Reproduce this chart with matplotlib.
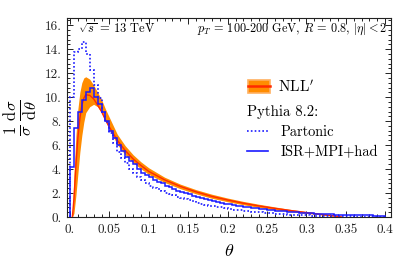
import matplotlib

matplotlib.use("Agg")
import matplotlib.pyplot as plt  # noqa: E402
import numpy as np  # noqa: E402
from matplotlib.lines import Line2D  # noqa: E402
from matplotlib.patches import Patch  # noqa: E402

plt.rcParams["font.family"] = "serif"
plt.rcParams["font.serif"] = ["cmr10", "DejaVu Serif"]
plt.rcParams["mathtext.fontset"] = "cm"
plt.rcParams["axes.unicode_minus"] = False

# Pythia histograms, bins of width 0.005 in theta
bin_width = 0.005
partonic = [
    10.0, 13.8, 14.0, 14.6, 13.6, 12.3, 11.0, 9.9, 8.8, 7.9,
    7.0, 6.2, 5.4, 4.9, 4.5, 4.0, 3.7, 3.3, 3.1, 2.8,
    2.6, 2.45, 2.3, 2.15, 2.0, 1.9, 1.8, 1.7, 1.6, 1.5,
    1.4, 1.3, 1.2, 1.1, 1.0, 0.95, 0.9, 0.85, 0.8, 0.72,
    0.7, 0.62, 0.6, 0.55, 0.5, 0.47, 0.45, 0.42, 0.38, 0.35,
    0.33, 0.3, 0.28, 0.25, 0.23, 0.2, 0.19, 0.17, 0.16, 0.15,
    0.14, 0.12, 0.11, 0.1, 0.09, 0.08, 0.08, 0.07, 0.06, 0.06,
    0.05, 0.05, 0.04, 0.04, 0.03, 0.03, 0.03, 0.02, 0.02, 0.02,
]
isr_mpi_had = [
    4.2, 7.4, 8.8, 9.8, 10.4, 10.8, 10.0, 9.4, 8.8, 8.0,
    7.2, 6.6, 6.0, 5.5, 5.0, 4.7, 4.4, 4.0, 3.7, 3.5,
    3.3, 3.1, 2.95, 2.8, 2.6, 2.5, 2.35, 2.2, 2.1, 2.0,
    1.9, 1.75, 1.7, 1.6, 1.5, 1.45, 1.35, 1.25, 1.2, 1.1,
    1.05, 1.0, 0.95, 0.9, 0.85, 0.8, 0.75, 0.72, 0.68, 0.65,
    0.6, 0.55, 0.52, 0.5, 0.47, 0.44, 0.42, 0.4, 0.37, 0.35,
    0.33, 0.3, 0.28, 0.26, 0.25, 0.23, 0.22, 0.2, 0.2, 0.18,
    0.17, 0.16, 0.15, 0.15, 0.14, 0.13, 0.13, 0.12, 0.12, 0.11,
]

# NLL' band
theta_nll = [
    0.003, 0.005, 0.0075, 0.01, 0.0125, 0.015, 0.0175, 0.02, 0.025, 0.03,
    0.035, 0.04, 0.045, 0.05, 0.06, 0.07, 0.08, 0.09, 0.1, 0.12,
    0.14, 0.16, 0.18, 0.2, 0.22, 0.24, 0.26, 0.28, 0.3, 0.315,
    0.33, 0.34, 0.345,
]
nll_central = [
    0.0, 1.5, 4.3, 6.6, 8.2, 9.3, 9.9, 10.2, 10.15, 9.85,
    9.35, 8.8, 8.1, 7.5, 6.4, 5.55, 4.85, 4.3, 3.8, 3.1,
    2.55, 2.1, 1.72, 1.42, 1.15, 0.92, 0.72, 0.54, 0.37, 0.25,
    0.13, 0.05, 0.0,
]
nll_upper = [
    0.0, 3.5, 6.8, 9.0, 10.4, 11.2, 11.6, 11.7, 11.5, 11.0,
    10.4, 9.8, 9.0, 8.3, 6.9, 5.95, 5.2, 4.6, 4.1, 3.32,
    2.74, 2.28, 1.9, 1.58, 1.3, 1.06, 0.84, 0.63, 0.45, 0.31,
    0.18, 0.08, 0.01,
]
nll_lower = [
    0.0, 0.3, 1.8, 3.6, 5.4, 6.8, 7.9, 8.7, 9.2, 9.4,
    9.2, 8.7, 8.0, 7.3, 6.05, 5.2, 4.55, 4.02, 3.55, 2.88,
    2.36, 1.93, 1.56, 1.27, 1.02, 0.8, 0.61, 0.45, 0.3, 0.2,
    0.1, 0.03, 0.0,
]

x_ticks = [0.0, 0.05, 0.1, 0.15, 0.2, 0.25, 0.3, 0.35, 0.4]
x_tick_labels = ["0.", "0.05", "0.1", "0.15", "0.2", "0.25", "0.3", "0.35", "0.4"]
y_ticks = [0, 2, 4, 6, 8, 10, 12, 14, 16]
y_tick_labels = ["0.", "2.", "4.", "6.", "8.", "10.", "12.", "14.", "16."]

ORANGE = "#ff8c00"
ORANGE_EDGE = "#ffb060"
RED = "#ff2a00"
BLUE = "#1a1aff"

fig = plt.figure(figsize=(3.99, 2.69), dpi=100)
ax = fig.add_axes([67 / 399, 52 / 269, 324 / 399, 199 / 269])

ax.fill_between(theta_nll, nll_lower, nll_upper, color=ORANGE, lw=0, zorder=2)
ax.plot(theta_nll, nll_central, color=RED, lw=1.0, zorder=3)

edges = np.arange(len(partonic) + 1) * bin_width
ax.stairs(partonic, edges, color=BLUE, lw=1.2, ls=(0, (1, 1.3)), zorder=4)
ax.stairs(isr_mpi_had, edges, color=BLUE, lw=1.1, zorder=5)

ax.set_xlim(-0.0038, 0.4073)
ax.set_ylim(0, 16.6)
ax.set_xticks(x_ticks)
ax.set_xticklabels(x_tick_labels)
ax.set_yticks(y_ticks)
ax.set_yticklabels(y_tick_labels)
ax.set_xticks(np.arange(0, 0.41, 0.01), minor=True)
ax.set_yticks(np.arange(0, 16.5, 0.4), minor=True)
ax.tick_params(which="both", direction="in", top=True, right=True,
               width=0.7, colors="#222222", labelsize=9.5)
ax.tick_params(which="major", length=4.5)
ax.tick_params(which="minor", length=2.5)
ax.tick_params(axis="x", pad=5)
ax.tick_params(axis="y", pad=4)
for sp in ax.spines.values():
    sp.set_linewidth(0.8)
    sp.set_color("#222222")

ax.set_xlabel(r"$\theta$", fontsize=13, labelpad=5)
ax.set_ylabel(r"$\frac{1}{\sigma}\,\frac{\mathrm{d}\sigma}{\mathrm{d}\theta}$",
              fontsize=17, labelpad=3)

ax.text(0.035, 0.945, r"$\sqrt{s}$ = 13 TeV", transform=ax.transAxes,
        fontsize=9, va="center", ha="left")
ax.text(0.99, 0.945, r"$p_T$ = 100-200 GeV, $R$ = 0.8, $|\eta| < 2$",
        transform=ax.transAxes, fontsize=8.8, va="center", ha="right")

nll_handle = (Patch(facecolor=ORANGE, edgecolor=ORANGE_EDGE, lw=1.2),
              Line2D([], [], color=RED, lw=1.8))
leg1 = ax.legend([nll_handle], [r"NLL$'$"], loc="center left",
                 bbox_to_anchor=(0.559, 0.655), frameon=False, fontsize=11,
                 handlelength=1.45, handleheight=0.9, handletextpad=0.5,
                 borderaxespad=0, borderpad=0)
ax.add_artist(leg1)
pythia_handles = [Line2D([], [], color=BLUE, lw=1.2, ls=(0, (1, 1.3))),
                  Line2D([], [], color=BLUE, lw=1.2)]
leg2 = ax.legend(pythia_handles, ["Partonic", "ISR+MPI+had"], loc="upper left",
                 bbox_to_anchor=(0.556, 0.565), frameon=False, fontsize=10.4,
                 title="Pythia 8.2:", title_fontsize=10.6, alignment="left",
                 handlelength=1.45, handletextpad=0.85, labelspacing=0.45,
                 borderaxespad=0, borderpad=0)

fig.savefig("out.png", dpi=100)
